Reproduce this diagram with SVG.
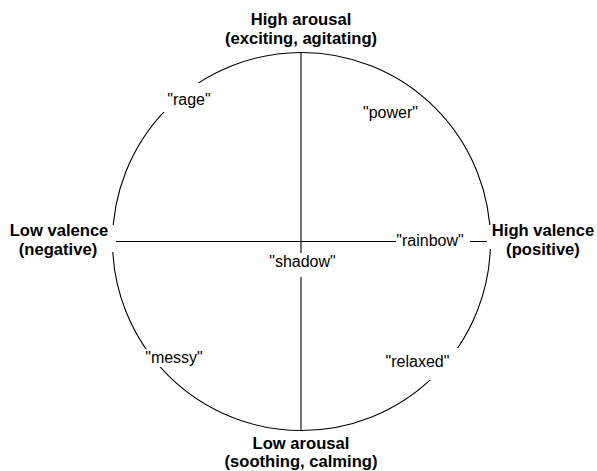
<svg xmlns="http://www.w3.org/2000/svg" width="597" height="471" viewBox="0 0 597 471">
<style>
.ax{stroke:#000;stroke-width:1.1;fill:none}
.bg{fill:#fff;stroke:none}
.t{font-family:"Liberation Sans",Arial,sans-serif;font-size:16px;fill:#000;text-anchor:middle}
.b{font-weight:bold;font-size:16.6px}
</style>
<rect width="597" height="471" fill="#fff"/>
<g id="connectors">
<circle class="ax" cx="301.5" cy="241.5" r="189"/>
<line class="ax" x1="112" y1="241.5" x2="491" y2="241.5"/>
<line class="ax" x1="301" y1="52" x2="301" y2="431"/>
</g>
<g id="high-arousal">
<text class="t b" x="301" y="25">High arousal</text>
<text class="t b" x="301" y="44">(exciting, agitating)</text>
</g>
<g id="low-arousal">
<text class="t b" x="301" y="449">Low arousal</text>
<text class="t b" x="301" y="467">(soothing, calming)</text>
</g>
<g id="low-valence">
<rect class="bg" x="0" y="225" width="116" height="27"/>
<text class="t b" x="59" y="236">Low valence</text>
<text class="t b" x="58" y="255">(negative)</text>
</g>
<g id="high-valence">
<rect class="bg" x="487" y="225" width="110" height="24"/>
<text class="t b" x="543" y="236">High valence</text>
<text class="t b" x="543" y="255">(positive)</text>
</g>
<g id="power">
<text class="t" x="390.5" y="118">"power"</text>
</g>
<g id="rage">
<rect class="bg" x="163" y="83" width="53" height="29"/>
<text class="t" x="189" y="105">"rage"</text>
</g>
<g id="messy">
<rect class="bg" x="140" y="349" width="66" height="18"/>
<text class="t" x="174" y="363">"messy"</text>
</g>
<g id="relaxed">
<rect class="bg" x="380" y="348" width="80" height="32"/>
<text class="t" x="417.5" y="367">"relaxed"</text>
</g>
<g id="shadow">
<rect class="bg" x="268" y="253" width="69" height="24"/>
<text class="t" x="302.5" y="267">"shadow"</text>
</g>
<g id="rainbow">
<rect class="bg" x="396" y="232" width="74" height="18"/>
<text class="t" x="430" y="246">"rainbow"</text>
</g>
</svg>
